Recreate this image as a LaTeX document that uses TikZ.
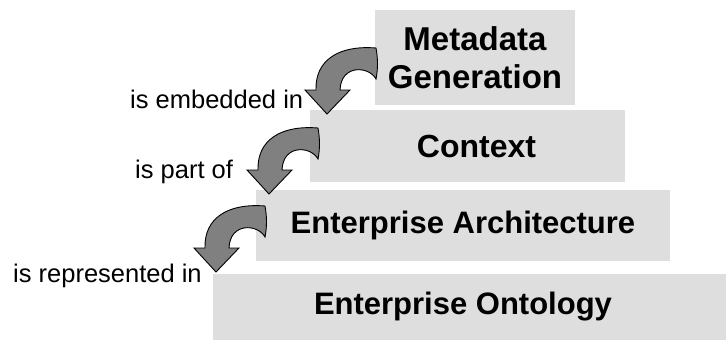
\documentclass[tikz,border=0pt]{standalone}
\usepackage{fontspec}
\setmainfont{Liberation Sans}
\begin{document}
\begin{tikzpicture}[x=1pt,y=-1pt,
  stepbox/.style={draw=none,fill=boxgray,inner sep=0pt,align=center,
    font=\bfseries\fontsize{31}{38}\selectfont},
  relabel/.style={anchor=base west,inner sep=0pt,font=\fontsize{25.5}{28}\selectfont},
  arrowstyle/.style={fill=arrgray,draw=black,line width=0.9pt,line join=miter},
  curvarrow/.pic={
    \draw[arrowstyle] (0,0) -- (-22,-24) -- (-11,-24)
      .. controls (-12,-54) and (12,-69) .. (49,-66)
      .. controls (51,-55) and (51,-45) .. (49,-35)
      .. controls (42,-48) and (14,-50) .. (13,-24)
      -- (23,-24) -- cycle;
  }]
\definecolor{boxgray}{HTML}{DEDEDE}
\definecolor{arrgray}{HTML}{808080}
\useasboundingbox (0,0) rectangle (726,340);
% boxes
\node[stepbox,minimum width=200pt,minimum height=95pt,
  font=\bfseries\fontsize{33}{38.5}\selectfont] (meta) at (475,57.5) {Metadata\\Generation};
\node[stepbox,minimum width=315pt,minimum height=72pt,
  font=\bfseries\fontsize{32}{38}\selectfont] (ctx) at (467.5,146) {\hspace*{18pt}Context};
\node[stepbox,minimum width=414pt,minimum height=71pt] (ea) at (463,225.5) {Enterprise Architecture};
\node[stepbox,minimum width=513pt,minimum height=66pt] (eo) at (469.5,307) {Enterprise Ontology\hspace*{13pt}};
% arrow tips
\coordinate (t1) at (327,114);
\coordinate (t2) at (269,194);
\coordinate (t3) at (216,272);
\pic at (t1) {curvarrow};
\pic at (t2) {curvarrow};
\pic at (t3) {curvarrow};
% labels
\node[relabel] (l1) at (130,108) {is embedded in};
\node[relabel] (l2) at (135,178) {is part of};
\node[relabel] (l3) at (13,282) {is represented in};
\end{tikzpicture}
\end{document}
